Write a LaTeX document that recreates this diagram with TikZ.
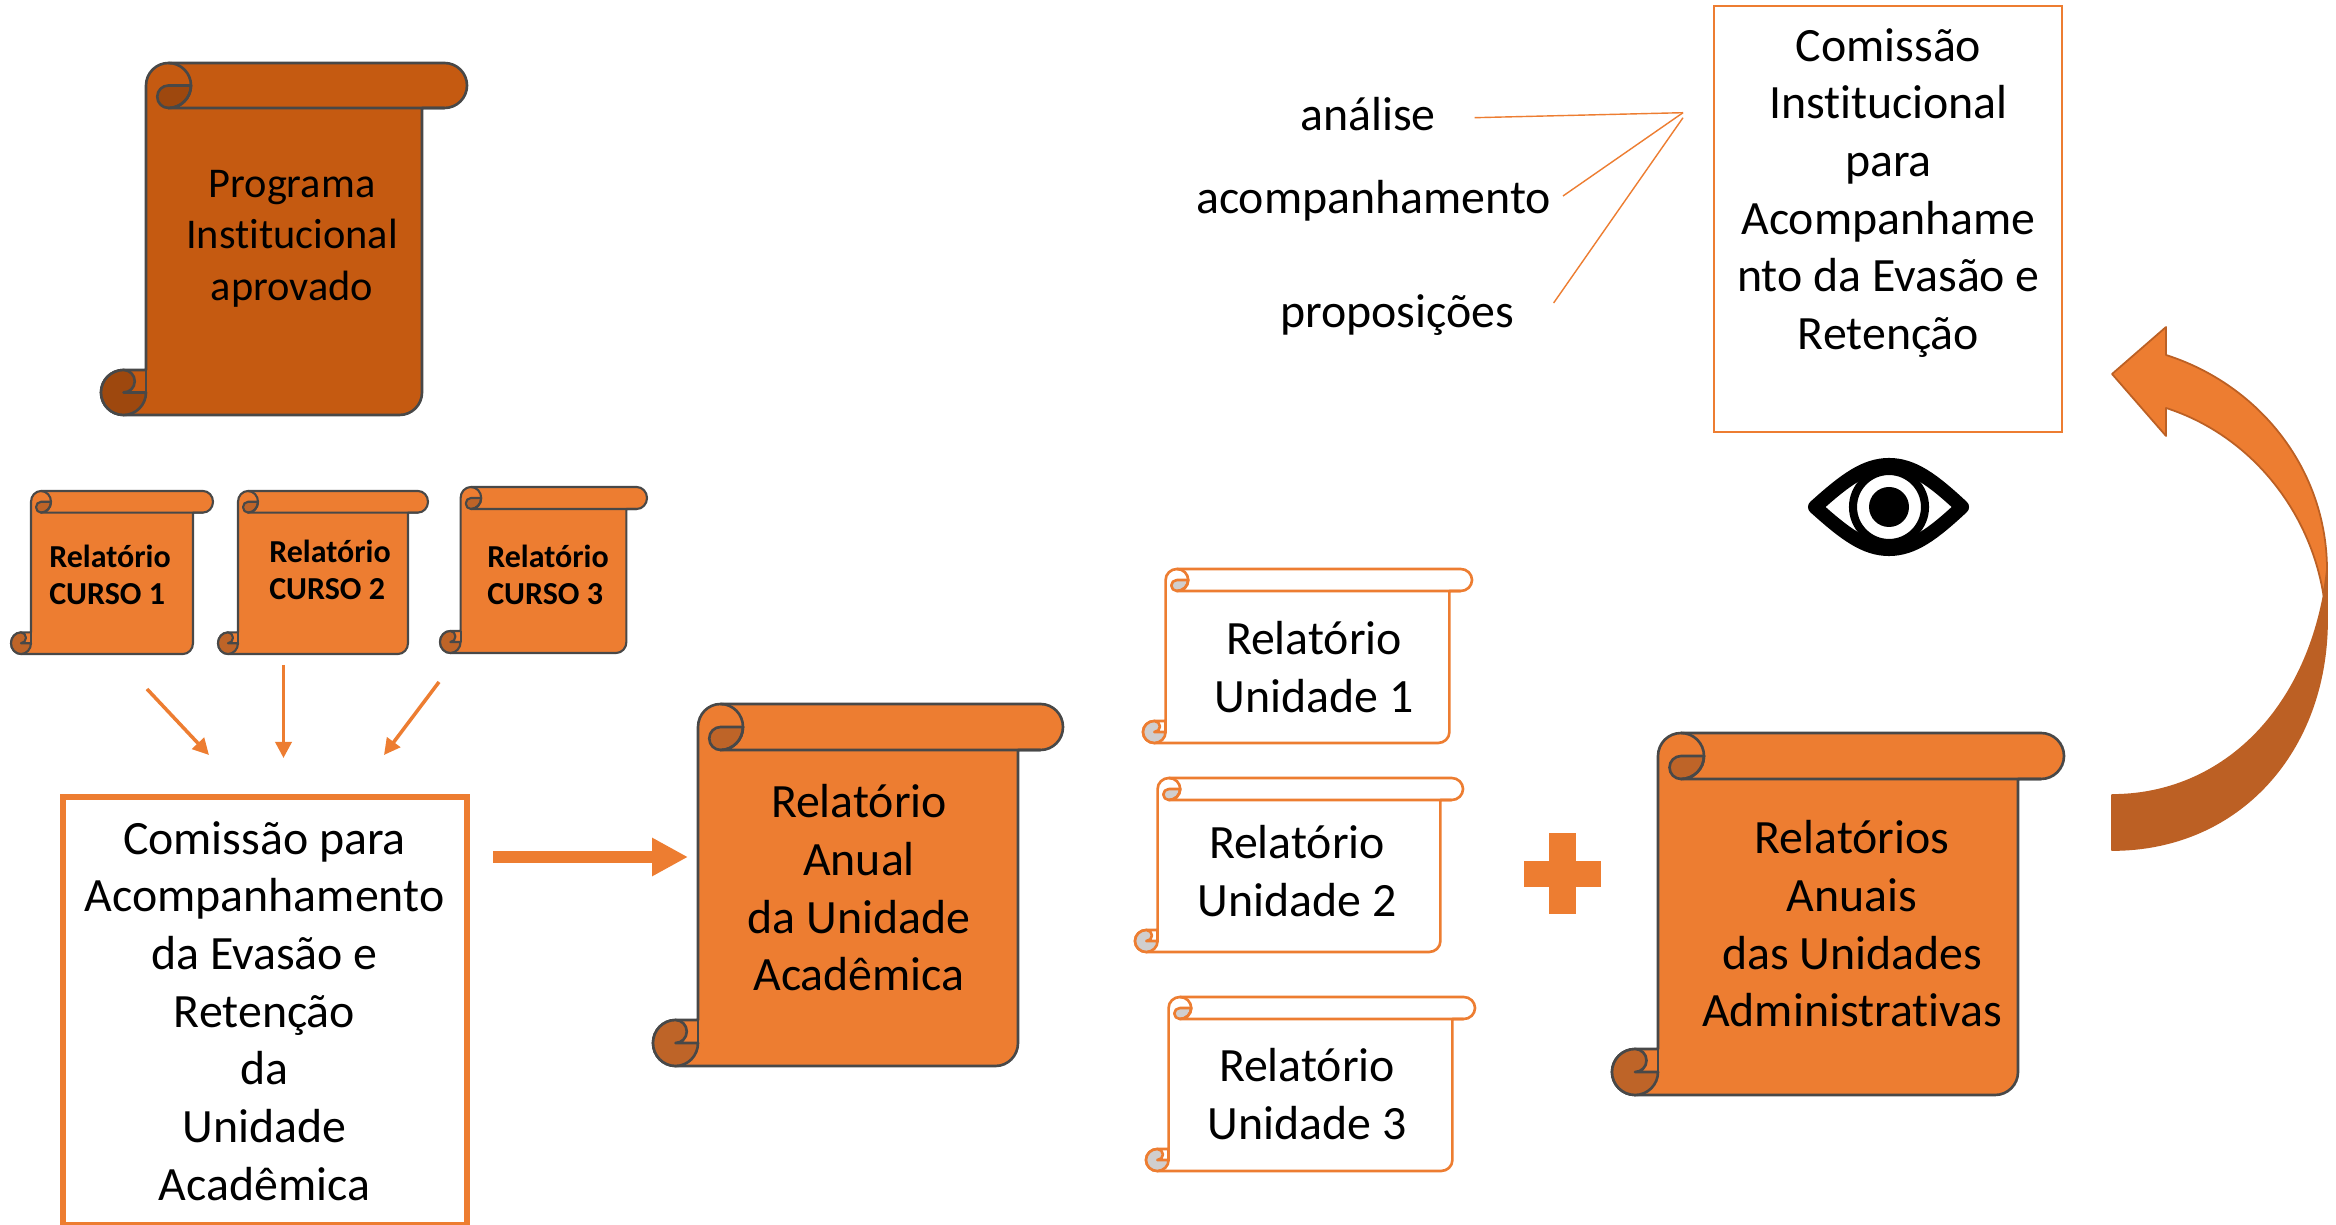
\documentclass[tikz,border=0pt]{standalone}
\usepackage{fontspec}
\setmainfont{Carlito}[Ligatures=NoCommon]
\usetikzlibrary{arrows.meta}
\definecolor{orng}{HTML}{ED7D31}
\definecolor{orngd}{HTML}{BE6428}
\definecolor{brn}{HTML}{C55A11}
\definecolor{brnd}{HTML}{9E480E}
\definecolor{edgeg}{HTML}{484848}
\definecolor{curlg}{HTML}{D0CECE}
\definecolor{arrowd}{HTML}{BC6024}
\tikzset{
 bigtext/.style={font=\fontsize{13.6pt}{16.4pt}\selectfont,align=center,inner sep=0pt},
 progtext/.style={font=\fontsize{12.05pt}{14.6pt}\selectfont,align=center,inner sep=0pt},
 cursotext/.style={font=\fontsize{9.1pt}{10.7pt}\selectfont\bfseries,align=left,inner sep=0pt},
 boxthick/.style={draw=orng,line width=1.7pt,rectangle,inner sep=0pt},
 boxthin/.style={draw=orng,line width=.7pt,rectangle,inner sep=0pt},
 thinarrow/.style={draw=orng,line width=1pt,-{Triangle[length=4.6pt,width=4.6pt]}},
 fatarrow/.style={draw=orng,line width=3.6pt,-{Triangle[length=10.2pt,width=10.2pt]}},
 thinline/.style={draw=orng,line width=.4pt},
}
% L T R B rx ry fill stroke width
\newcommand{\scrollshape}[9]{%
 \pgfmathsetmacro{\scL}{#1}\pgfmathsetmacro{\scT}{#2}\pgfmathsetmacro{\scR}{#3}\pgfmathsetmacro{\scB}{#4}%
 \pgfmathsetmacro{\scx}{#5}\pgfmathsetmacro{\scy}{#6}%
 \pgfmathsetmacro{\scxh}{#5/2}\pgfmathsetmacro{\scyh}{#6/2}%
 \begin{scope}[line width=#9,draw=#8,line join=round,x radius=\scx,y radius=\scy]
 \filldraw[fill=#7] ({\scL+3*\scx},\scT) -- ({\scR-\scx},\scT) arc[start angle=-90,end angle=90]
   -- ({\scR-2*\scx},{\scT+2*\scy}) -- ({\scR-2*\scx},{\scB-\scy}) arc[start angle=0,end angle=90]
   -- ({\scL+\scx},\scB) arc[start angle=90,end angle=270] -- ({\scL+2*\scx},{\scB-2*\scy})
   -- ({\scL+2*\scx},{\scT+\scy}) arc[start angle=180,end angle=270] -- cycle;
 \filldraw[fill=\scrolldark] ({\scL+3*\scx},{\scT+\scy}) -- ({\scL+4*\scx},{\scT+\scy}) arc[start angle=0,end angle=90]
   arc[start angle=90,end angle=270,x radius=\scxh,y radius=\scyh] -- cycle;
 \draw ({\scL+3*\scx},\scT) arc[start angle=-90,end angle=90] -- ({\scR-\scx},{\scT+2*\scy});
 \filldraw[fill=\scrolldark] ({\scL+\scx},\scB) arc[start angle=90,end angle=270] arc[start angle=-90,end angle=90,x radius=\scxh,y radius=\scyh]
   -- ({\scL+2*\scx},{\scB-\scy}) arc[start angle=0,end angle=90] -- cycle;
 \draw ({\scL+2*\scx},{\scB-2*\scy}) -- ({\scL+2*\scx},{\scB-\scy});
 \end{scope}}
\begin{document}
\begin{tikzpicture}[x=0.01cm,y=-0.01cm]
\useasboundingbox (0,0) rectangle (2336,1225);
\fill[white] (0,0) rectangle (2336,1225);
% scrolls
\def\scrolldark{brnd}
\scrollshape{101}{63}{467}{415}{22.5}{22.5}{brn}{edgeg}{.75pt}
\node[progtext] (prog) at (292,238.5) {Programa\\Institucional\\aprovado};
\def\scrolldark{orngd}
\scrollshape{11}{491}{213}{654}{10}{10.8}{orng}{edgeg}{.6pt}
\node[cursotext] (c1) at (110,575) {Relatório\\CURSO 1};
\scrollshape{218}{491}{428}{654}{10}{10.8}{orng}{edgeg}{.6pt}
\node[cursotext] (c2) at (330,570) {Relatório\\CURSO 2};
\scrollshape{440}{487}{647}{653}{10.3}{11}{orng}{edgeg}{.6pt}
\node[cursotext] (c3) at (548,575) {Relatório\\CURSO 3};
\scrollshape{653}{704}{1063}{1066}{22.5}{23}{orng}{edgeg}{.75pt}
\node[bigtext] (rau) at (859,888) {Relatório\\Anual\\da Unidade\\Acadêmica};
\scrollshape{1612}{733}{2064}{1095}{23}{23}{orng}{edgeg}{.75pt}
\node[bigtext] (rad) at (1852,924) {Relatórios\\Anuais\\das Unidades\\Administrativas};
\def\scrolldark{curlg}
\scrollshape{1143}{569}{1472}{743}{11.3}{11}{white}{orng}{.75pt}
\node[bigtext] (u1) at (1314,667) {Relatório\\Unidade 1};
\scrollshape{1135}{778}{1463}{952}{11.3}{11}{white}{orng}{.75pt}
\node[bigtext] (u2) at (1297,871) {Relatório\\Unidade 2};
\scrollshape{1146}{997}{1475}{1171}{11.3}{11}{white}{orng}{.75pt}
\node[bigtext] (u3) at (1307,1094) {Relatório\\Unidade 3};
% boxes
\node[boxthick,minimum width=4.035cm,minimum height=4.28cm] (cpa) at (264.7,1011) {};
\node[bigtext] (cpat) at (264.5,1011) {Comissão para\\Acompanhamento\\da Evasão e\\Retenção\\da\\Unidade\\Acadêmica};
\node[boxthin,minimum width=3.48cm,minimum height=4.26cm] (cia) at (1888,219) {};
\node[bigtext] (ciat) at (1888.5,193) {Comissão\\Institucional\\para\\Acompanhame\\nto da Evasão e\\Retenção};
% labels
\node[bigtext,anchor=base] (lan) at (1368,131) {análise};
\node[bigtext,anchor=base] (lac) at (1373.5,214) {acompanhamento};
\node[bigtext,anchor=base] (lpr) at (1397,328) {proposições};
\coordinate (huba) at (1683,112.7);
\coordinate (hubb) at (1683,117.7);
\coordinate (lane) at (1474.6,117.7);
\coordinate (lace) at (1563,196);
\coordinate (lpre) at (1553.6,303);
\draw[thinline] (lane) -- (huba);
\draw[thinline] (lace) -- (huba);
\draw[thinline] (lpre) -- (hubb);
% arrows
\coordinate (a1s) at (147,689); \coordinate (a1e) at (209,755);
\coordinate (a2s) at (283.5,665); \coordinate (a2e) at (283.5,758);
\coordinate (a3s) at (439,682); \coordinate (a3e) at (384,755);
\draw[thinarrow] (a1s) -- (a1e);
\draw[thinarrow] (a2s) -- (a2e);
\draw[thinarrow] (a3s) -- (a3e);
\coordinate (fs) at (493,857); \coordinate (fe) at (688,857);
\draw[fatarrow] (fs) -- (fe);
% plus
\fill[orng] (1549,833) rectangle (1576,914);
\fill[orng] (1524,861) rectangle (1601,887);
% eye
\draw[black,line width=4pt,line join=round,fill=white] (1815,507) .. controls (1845,480) and (1865,465) .. (1889,465)
  .. controls (1913,465) and (1933,480) .. (1962,507) .. controls (1933,534) and (1913,549) .. (1889,549)
  .. controls (1865,549) and (1845,534) .. (1815,507) -- cycle;
\draw[black,line width=2.3pt,fill=white] (1889,507) circle [radius=36];
\fill[black] (1889,507) circle [radius=20];
% curved arrow
\filldraw[fill=arrowd,draw=arrowd,line width=.5pt,line join=round] (2323.6,596) .. controls (2300,720) and (2215,795) .. (2112,795)
  -- (2112,850) .. controls (2240,850) and (2327,750) .. (2327,620) -- (2327,570) -- cycle;
\filldraw[fill=orng,draw=arrowd,line width=.5pt,line join=round] (2166,355) .. controls (2260,385) and (2327,470) .. (2327,570)
  -- (2323.6,596) .. controls (2310,510) and (2250,435) .. (2166,408) -- (2166,436) -- (2112,374) -- (2166,327) -- cycle;
\end{tikzpicture}
\end{document}
